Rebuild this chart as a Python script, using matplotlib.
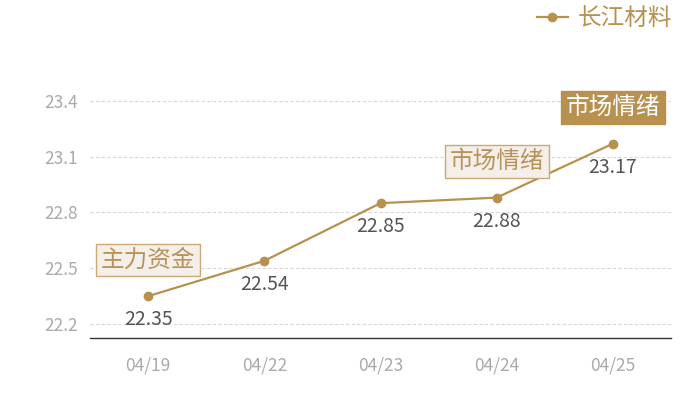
import matplotlib
matplotlib.use("Agg")
import matplotlib.pyplot as plt

plt.rcParams['font.family'] = ['Noto Sans CJK SC', 'DejaVu Sans']

dates = ["04/19", "04/22", "04/23", "04/24", "04/25"]
prices = [22.35, 22.54, 22.85, 22.88, 23.17]
yticks = [22.2, 22.5, 22.8, 23.1, 23.4]
series_name = "长江材料"
tags = [(0, "主力资金", "light"), (3, "市场情绪", "light"), (4, "市场情绪", "dark")]

gold = "#b8914f"
fig = plt.figure(figsize=(7, 4), dpi=100)
ax = fig.add_axes([90/700, 62/400, 581/700, 278/400])
x = list(range(len(dates)))
line, = ax.plot(x, prices, color=gold, lw=1.6, marker='o', ms=6, zorder=3, label=series_name)
ax.set_xlim(-0.5, len(dates) - 0.5)
ax.set_ylim(22.125, 23.62)
ax.set_yticks(yticks)
ax.set_yticklabels([f"{v:.1f}" for v in yticks])
ax.set_xticks(x)
ax.set_xticklabels(dates)
ax.tick_params(axis='both', length=0, colors="#aaaaaa", labelsize=12.5)
ax.tick_params(axis='y', pad=9)
ax.tick_params(axis='x', pad=13)
for v in yticks:
    ax.axhline(v, color="#d8d8d8", lw=0.8, ls=(0, (3, 2)), zorder=1)
for s in ['top', 'right', 'left']:
    ax.spines[s].set_visible(False)
ax.spines['bottom'].set_color("#333333")
ax.spines['bottom'].set_linewidth(1)

for xi, p in zip(x, prices):
    ax.annotate(f"{p:.2f}", (xi, p), xytext=(0, -17), textcoords='offset points',
                ha='center', va='center', fontsize=14, color="#555555")

for i, t, style in tags:
    if style == "light":
        bb = dict(boxstyle='square,pad=0.2', fc="#f4efe9", ec="#c9a97a", lw=1)
        c = "#b8925a"
    else:
        bb = dict(boxstyle='square,pad=0.2', fc="#b8914f", ec="#b8914f", lw=1)
        c = "white"
    ax.annotate(t, (x[i], prices[i]), xytext=(0, 26), textcoords='offset points',
                ha='center', va='center', fontsize=17, color=c, bbox=bb, annotation_clip=False, zorder=4)

leg = fig.legend(handles=[line], loc='upper right', bbox_to_anchor=(0.99, 1.035), frameon=False,
                 fontsize=17, handlelength=1.3, handletextpad=0.4, labelcolor=gold)
fig.savefig("out.png", dpi=100)
